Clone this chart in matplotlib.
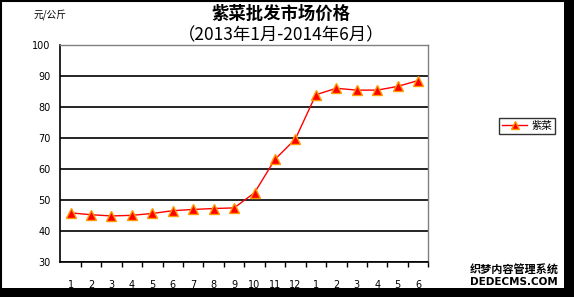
import matplotlib
matplotlib.use("Agg")
import matplotlib.pyplot as plt
from matplotlib.patches import Rectangle
from matplotlib.lines import Line2D

plt.rcParams['font.family'] = ['Noto Sans CJK SC', 'DejaVu Sans']

months = ["1", "2", "3", "4", "5", "6", "7", "8", "9", "10", "11", "12",
          "1", "2", "3", "4", "5", "6"]
prices = [45.8, 45.2, 44.8, 45.0, 45.6, 46.5, 46.9, 47.2, 47.4, 52.3, 63.1, 69.7,
          84.0, 86.1, 85.5, 85.5, 86.7, 88.6]
series_name = "紫菜"
title_line1 = "紫菜批发市场价格"
title_line2 = "（2013年1月-2014年6月）"
unit_label = "元/公斤"
yticks = [30, 40, 50, 60, 70, 80, 90, 100]

W, H = 574, 297
fig = plt.figure(figsize=(W / 100, H / 100), dpi=100)
fig.patch.set_facecolor("white")

# outer frame like reference
fig.patches.append(Rectangle((564 / W, 0), 1 - 564 / W, 1, transform=fig.transFigure,
                             facecolor="black", edgecolor="none", zorder=0))
fig.patches.append(Rectangle((0, 0), 1, (297 - 287.5) / H, transform=fig.transFigure,
                             facecolor="black", edgecolor="none", zorder=0))
fig.lines.append(Line2D([0.8 / W, 0.8 / W], [0, 1], transform=fig.transFigure,
                        color="black", lw=1.5))
fig.lines.append(Line2D([0, 1], [1 - 0.8 / H, 1 - 0.8 / H], transform=fig.transFigure,
                        color="black", lw=1.5))

ax = fig.add_axes([60.3 / W, 1 - 261.7 / H, (428.3 - 60.3) / W, (261.7 - 45.3) / H])
ax.set_facecolor("white")
x = list(range(len(months)))
ax.plot(x, prices, color="red", lw=1.0, marker="^", markersize=7.5,
        markerfacecolor="red", markeredgecolor="#FF9900", markeredgewidth=1.0,
        label=series_name, zorder=3)

ax.set_xlim(-0.5, len(months) - 0.5)
ax.set_ylim(30, 100)
ax.set_yticks(yticks)
ax.set_yticklabels([str(v) for v in yticks], fontsize=7, family="DejaVu Sans")
ax.set_xticks(x)
ax.set_xticklabels(months, fontsize=7, family="DejaVu Sans")
ax.tick_params(axis="x", which="major", length=0, pad=13)
ax.set_xticks([i + 0.5 for i in range(len(months))], minor=True)
ax.tick_params(axis="x", which="minor", direction="out", length=3.5, color="black", width=1)
ax.tick_params(axis="y", which="major", length=0, pad=7)

ax.grid(axis="y", color="black", lw=1.2)
ax.set_axisbelow(True)
for s in ["left", "bottom"]:
    ax.spines[s].set_color("black")
    ax.spines[s].set_linewidth(1.2)
for s in ["top", "right"]:
    ax.spines[s].set_color("#808080")
    ax.spines[s].set_linewidth(1.0)

leg = ax.legend(loc="center left", bbox_to_anchor=(494 / W, 1 - 126 / H),
                bbox_transform=fig.transFigure, frameon=True,
                fancybox=False, edgecolor="black", handlelength=2.4,
                borderpad=0.3, handletextpad=0.4, markerscale=0.8,
                prop={"family": ["Noto Sans CJK SC"], "size": 7.5})
leg.get_frame().set_linewidth(1.0)

fig.text(281 / W, 1 - 14 / H, title_line1, ha="center", va="center",
         fontsize=12.5, fontweight="bold")
fig.text(281 / W, 1 - 35 / H, title_line2, ha="center", va="center",
         fontsize=12.5)
fig.text(50 / W, 1 - 15 / H, unit_label, ha="center", va="center", fontsize=7)

fig.text(514 / W, 1 - 270 / H, "织梦内容管理系统", ha="center", va="center",
         fontsize=8, fontweight="bold", color="black")
fig.text(514 / W, 1 - 282 / H, "DEDECMS.COM", ha="center", va="center",
         fontsize=7.5, fontweight="bold", color="black", family="DejaVu Sans")

fig.savefig("out.png", dpi=100, facecolor=fig.get_facecolor())
